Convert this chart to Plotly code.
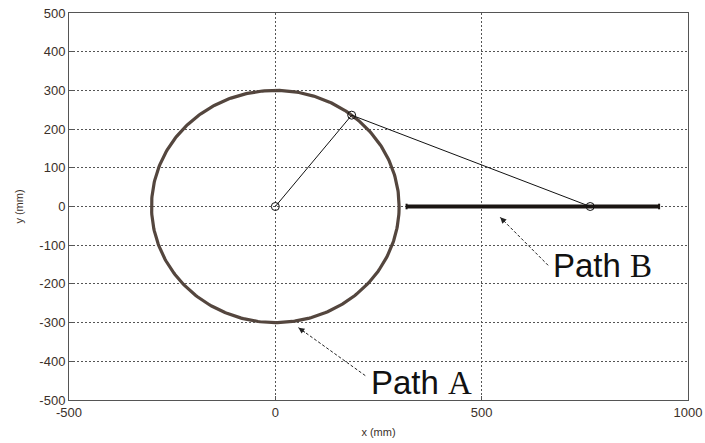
import numpy as np
import plotly.graph_objects as go

# ── data ─────────────────────────────────────────────
circle_center = [0, 0]
circle_radius = 300
path_b_x = [318, 930]
path_b_y = [0, 0]
# linkage: crank pivot -> crank tip -> slider
link_x = [0, 185, 763]
link_y = [0, 236, 0]

x_ticks = [-500, 0, 500, 1000]
x_labels = ["-500", "0", "500", "1000"]
y_ticks = [-500, -400, -300, -200, -100, 0, 100, 200, 300, 400, 500]
y_labels = [str(v) for v in y_ticks]

# annotation arrows: (text pos) -> (arrow tip)
arrow_a = dict(x0=218, y0=-437, x1=56, y1=-313)
arrow_b = dict(x0=661, y0=-152, x1=545, y1=-28)
label_a = dict(x=228, y=-454)
label_b = dict(x=668, y=-153)

theta = np.linspace(0, 2 * np.pi, 361)
circ_x = circle_center[0] + circle_radius * np.cos(theta)
circ_y = circle_center[1] + circle_radius * np.sin(theta)

INK = "#3a3029"

fig = go.Figure()

# Path A (circle)
fig.add_trace(go.Scatter(x=circ_x, y=circ_y, mode="lines",
                         line=dict(color="#54463e", width=3.2)))
# Path B (straight)
fig.add_trace(go.Scatter(x=path_b_x, y=path_b_y, mode="lines+markers",
                         line=dict(color="#1a1512", width=4),
                         marker=dict(symbol="line-ns", size=4,
                                     line=dict(color="#1a1512", width=2))))
# linkage
fig.add_trace(go.Scatter(x=link_x, y=link_y, mode="lines+markers",
                         line=dict(color="#111111", width=1),
                         marker=dict(symbol="circle-open", size=8,
                                     line=dict(color="#6b6360", width=1))))

# dashed arrow shafts
for a in (arrow_a, arrow_b):
    fig.add_trace(go.Scatter(x=[a["x0"], a["x1"]], y=[a["y0"], a["y1"]],
                             mode="lines",
                             line=dict(color="#222222", width=1, dash="3px,2px")))
    fig.add_annotation(x=a["x1"], y=a["y1"], ax=a["x1"] + (a["x0"] - a["x1"]) * 0.12,
                       ay=a["y1"] + (a["y0"] - a["y1"]) * 0.12,
                       xref="x", yref="y", axref="x", ayref="y",
                       text="", showarrow=True, arrowhead=2, arrowsize=1.2,
                       arrowwidth=1, arrowcolor="#222222")

for lab, letter in ((label_a, "A"), (label_b, "B")):
    fig.add_annotation(x=lab["x"], y=lab["y"], xref="x", yref="y",
                       xanchor="left", yanchor="middle",
                       text=f"Path <span style='font-family:Liberation Serif'>{letter}</span>",
                       showarrow=False,
                       font=dict(family="Liberation Sans", size=33, color="#111111"))

axis_common = dict(showline=True, linecolor="#555555", linewidth=1, mirror=True,
                   showgrid=True, gridcolor="#555555", griddash="2px,2px", gridwidth=1,
                   zeroline=False, ticks="inside", ticklen=4, tickcolor="#555555",
                   automargin=False,
                   tickfont=dict(family="Liberation Sans", size=13, color=INK),
                   title_font=dict(family="Liberation Sans", size=11, color=INK))

fig.update_xaxes(range=[-500, 1000], tickvals=x_ticks, ticktext=x_labels,
                 title_text="x (mm)", title_standoff=9, **axis_common)
fig.update_yaxes(range=[-500, 500], tickvals=y_ticks, ticktext=y_labels,
                 title_text="y (mm)", title_standoff=13, **axis_common)

fig.update_layout(
    width=705, height=443,
    margin=dict(l=69, r=17, t=13, b=43),
    paper_bgcolor="white", plot_bgcolor="white",
    showlegend=False,
)

# drop the default 8px body margin so the figure fills the window exactly
fig.write_html("out.html", config={"displayModeBar": False},
               post_script="document.body.style.margin='0';")
